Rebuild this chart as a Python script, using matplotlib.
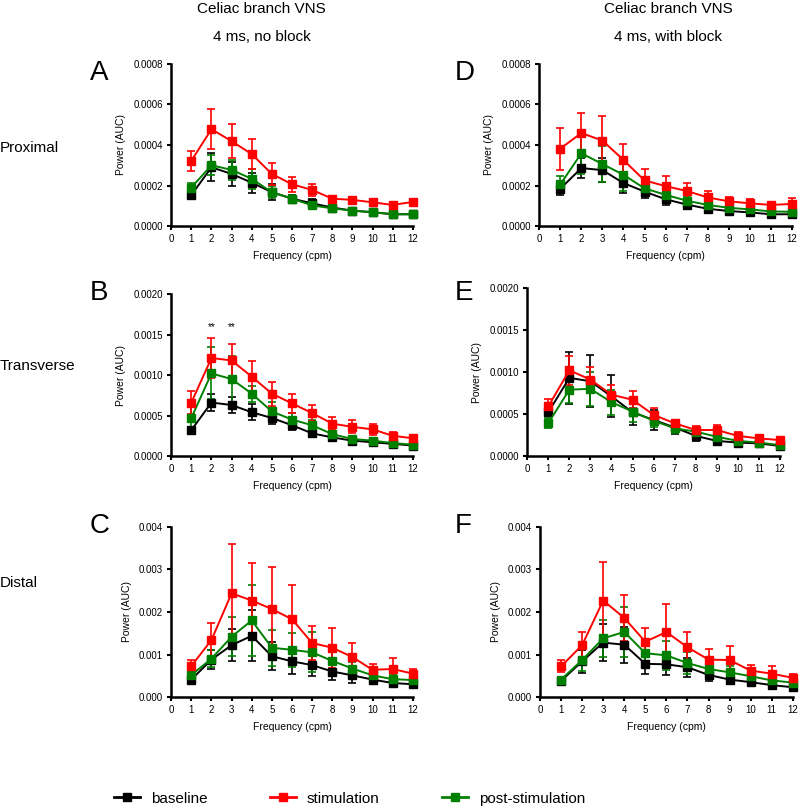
import matplotlib.pyplot as plt
from matplotlib.lines import Line2D
import numpy as np

plt.rcParams['font.family'] = ['Liberation Sans', 'DejaVu Sans']

freq = np.arange(1, 13)

# panel A: proximal, no block
a_base = [0.000153, 0.00029, 0.000257, 0.000214, 0.000167, 0.000135, 0.000112, 0.000091, 0.000076, 0.000068, 0.000058, 0.000058]
a_base_err = [0.00002, 0.00007, 0.00006, 0.00005, 0.00004, 0.00002, 0.00002, 0.00001, 0.000008, 0.000006, 0.000006, 0.000006]
a_stim = [0.000322, 0.000478, 0.000419, 0.000355, 0.000257, 0.000206, 0.000178, 0.000135, 0.000129, 0.000117, 0.000104, 0.000119]
a_stim_err = [0.00005, 0.0001, 0.000085, 0.000075, 0.000056, 0.000038, 0.00003, 0.000015, 0.000015, 0.000012, 0.00001, 0.000015]
a_post = [0.00019, 0.0003, 0.000277, 0.000233, 0.000167, 0.000135, 0.000102, 0.000087, 0.000076, 0.000068, 0.000058, 0.000058]
a_post_err = [0.00002, 0.00005, 0.00005, 0.00005, 0.00003, 0.00002, 0.000015, 0.00001, 0.00001, 0.000008, 0.000008, 0.000008]

# panel B: transverse, no block
b_base = [0.00032, 0.00066, 0.00063, 0.00054, 0.00047, 0.00038, 0.00028, 0.00023, 0.00019, 0.00017, 0.00015, 0.00013]
b_base_err = [0.00004, 0.00011, 0.0001, 0.0001, 0.00008, 0.00006, 0.00005, 0.00004, 0.00003, 0.00003, 0.00003, 0.00003]
b_stim = [0.00066, 0.00121, 0.00118, 0.00098, 0.00077, 0.00065, 0.00053, 0.0004, 0.00036, 0.00033, 0.00025, 0.00022]
b_stim_err = [0.00014, 0.00025, 0.0002, 0.00019, 0.00015, 0.00012, 0.0001, 0.00008, 0.00008, 0.00007, 0.00005, 0.00004]
b_post = [0.00047, 0.00102, 0.00095, 0.00077, 0.00055, 0.00045, 0.00038, 0.00027, 0.00021, 0.00019, 0.00016, 0.00014]
b_post_err = [0.00013, 0.00032, 0.00028, 0.0001, 0.00012, 0.00008, 0.00006, 0.00004, 0.00004, 0.00003, 0.00003, 0.00003]

# panel C: distal, no block
c_base = [0.00041, 0.00088, 0.00122, 0.00144, 0.00096, 0.00084, 0.00075, 0.0006, 0.00051, 0.00041, 0.00033, 0.0003]
c_base_err = [0.00007, 0.00023, 0.00038, 0.0006, 0.00033, 0.0003, 0.00025, 0.0002, 0.00017, 0.0001, 0.00008, 0.00006]
c_stim = [0.00073, 0.00134, 0.00244, 0.00227, 0.00207, 0.00183, 0.00127, 0.00116, 0.00094, 0.00064, 0.00066, 0.00055]
c_stim_err = [0.00015, 0.0004, 0.00116, 0.00089, 0.00098, 0.0008, 0.0004, 0.00047, 0.00033, 0.00014, 0.00025, 0.0001]
c_post = [0.00052, 0.0009, 0.00142, 0.0018, 0.00116, 0.00111, 0.00105, 0.00085, 0.00067, 0.00051, 0.00042, 0.0004]
c_post_err = [0.00006, 0.0002, 0.00046, 0.00083, 0.00042, 0.0004, 0.00047, 0.00025, 0.00015, 0.0001, 0.0001, 0.0001]

# panel D: proximal, with block
d_base = [0.000184, 0.000286, 0.000276, 0.000212, 0.00017, 0.000132, 0.000106, 0.000085, 0.000074, 0.000067, 0.000058, 0.000058]
d_base_err = [0.00003, 0.00005, 0.00006, 0.00005, 0.00003, 0.00003, 0.00002, 0.000015, 0.00001, 0.00001, 0.00001, 0.00001]
d_stim = [0.000382, 0.000459, 0.000422, 0.000326, 0.000225, 0.000197, 0.000173, 0.000141, 0.000122, 0.000112, 0.000104, 0.000109]
d_stim_err = [0.000104, 0.0001, 0.00012, 0.000077, 0.000056, 0.00005, 0.00004, 0.00003, 0.00002, 0.00002, 0.000015, 0.000027]
d_post = [0.000205, 0.000359, 0.000306, 0.000253, 0.000186, 0.000154, 0.000125, 0.000104, 0.00009, 0.000082, 0.000072, 0.00007]
d_post_err = [0.00004, 0.0001, 0.000087, 0.00008, 0.00004, 0.00003, 0.00002, 0.000015, 0.00001, 0.00001, 0.00001, 0.00001]

# panel E: transverse, with block
e_base = [0.00052, 0.00093, 0.00089, 0.00071, 0.00052, 0.00043, 0.00034, 0.00024, 0.00018, 0.00016, 0.00015, 0.00012]
e_base_err = [0.00004, 0.00031, 0.00031, 0.00025, 0.00015, 0.00012, 0.00008, 0.00006, 0.00004, 0.00003, 0.00003, 0.00003]
e_stim = [0.00059, 0.00102, 0.00091, 0.00073, 0.00067, 0.00049, 0.00039, 0.00031, 0.00031, 0.00024, 0.00021, 0.00019]
e_stim_err = [0.00009, 0.00017, 0.00015, 0.00012, 0.0001, 0.00008, 0.00004, 0.00005, 0.00006, 0.00005, 0.00003, 0.00003]
e_post = [0.00039, 0.00079, 0.0008, 0.00064, 0.00053, 0.00042, 0.00033, 0.00029, 0.00023, 0.00018, 0.00016, 0.00013]
e_post_err = [0.00006, 0.00016, 0.0002, 0.00015, 0.00012, 0.00008, 0.00006, 0.00005, 0.00004, 0.00004, 0.00003, 0.00003]

# panel F: distal, with block
f_base = [0.00038, 0.00084, 0.00128, 0.00123, 0.00078, 0.00077, 0.0007, 0.00052, 0.00041, 0.00035, 0.00028, 0.00023]
f_base_err = [0.00006, 0.00027, 0.00044, 0.00042, 0.00023, 0.00025, 0.00022, 0.00015, 0.0001, 0.00006, 0.00004, 0.00003]
f_stim = [0.00072, 0.00122, 0.00227, 0.00186, 0.0013, 0.00153, 0.00117, 0.00088, 0.00087, 0.00062, 0.00055, 0.00045]
f_stim_err = [0.00014, 0.0003, 0.0009, 0.00054, 0.00033, 0.00065, 0.00035, 0.00026, 0.00032, 0.00014, 0.00017, 0.0001]
f_post = [0.00041, 0.00087, 0.00138, 0.00153, 0.00103, 0.00098, 0.0008, 0.00066, 0.00058, 0.00049, 0.00039, 0.00034]
f_post_err = [0.00006, 0.00025, 0.00043, 0.00059, 0.00031, 0.00034, 0.00025, 0.00015, 0.00015, 0.0001, 0.00008, 0.00008]

col_titles = ["Celiac branch VNS\n4 ms, no block", "Celiac branch VNS\n4 ms, with block"]
row_labels = ["Proximal", "Transverse", "Distal"]
series_names = ["baseline", "stimulation", "post-stimulation"]
colors = ["black", "red", "green"]

panels = [
    ("A", a_base, a_base_err, a_stim, a_stim_err, a_post, a_post_err, 0.0008, 0.0002, "%.4f"),
    ("B", b_base, b_base_err, b_stim, b_stim_err, b_post, b_post_err, 0.002, 0.0005, "%.4f"),
    ("C", c_base, c_base_err, c_stim, c_stim_err, c_post, c_post_err, 0.004, 0.001, "%.3f"),
    ("D", d_base, d_base_err, d_stim, d_stim_err, d_post, d_post_err, 0.0008, 0.0002, "%.4f"),
    ("E", e_base, e_base_err, e_stim, e_stim_err, e_post, e_post_err, 0.002, 0.0005, "%.4f"),
    ("F", f_base, f_base_err, f_stim, f_stim_err, f_post, f_post_err, 0.004, 0.001, "%.3f"),
]

# axes rectangles [left, bottom, width, height] in figure fraction
rects = [
    [0.214, 0.7196, 0.302, 0.201],
    [0.214, 0.4342, 0.302, 0.201],
    [0.214, 0.1352, 0.302, 0.211],
    [0.674, 0.7196, 0.316, 0.201],
    [0.659, 0.4342, 0.316, 0.2085],
    [0.675, 0.1352, 0.316, 0.211],
]
# panel letter positions (figure fraction, top-left)
letter_pos = [(0.112, 0.925), (0.112, 0.652), (0.112, 0.363),
              (0.568, 0.925), (0.568, 0.652), (0.568, 0.363)]

fig = plt.figure(figsize=(8, 8.06), dpi=100)

for rect, lpos, (letter, base, base_e, stim, stim_e, post, post_e, ymax, ystep, fmt) in zip(rects, letter_pos, panels):
    ax = fig.add_axes(rect)
    for vals, errs, c in [(base, base_e, colors[0]), (post, post_e, colors[2]), (stim, stim_e, colors[1])]:
        ax.errorbar(freq, vals, yerr=errs, color=c, marker='s', markersize=5.5,
                    linewidth=1.4, elinewidth=1.2, capsize=3.2, capthick=1.2, clip_on=False)
    ax.set_xlim(0, 12)
    ax.set_ylim(0, ymax)
    ax.set_xticks(range(0, 13))
    ax.set_yticks(np.arange(0, ymax + ystep / 2, ystep))
    ax.yaxis.set_major_formatter(plt.FormatStrFormatter(fmt))
    ax.tick_params(labelsize=7, width=1.5, length=3, pad=3)
    for s in ['top', 'right']:
        ax.spines[s].set_visible(False)
    for s in ['left', 'bottom']:
        ax.spines[s].set_linewidth(1.8)
    ax.set_xlabel('Frequency (cpm)', fontsize=7.5, labelpad=5)
    ax.set_ylabel('Power (AUC)', fontsize=7.5, labelpad=5)
    fig.text(lpos[0], lpos[1], letter, fontsize=20, va='top', ha='left')
    if letter == "B":
        for x in [2, 3]:
            ax.text(x, 0.00153, "**", ha='center', va='bottom', fontsize=7)

fig.text(0.327, 0.9715, col_titles[0], ha='center', va='center', fontsize=11, linespacing=2.25)
fig.text(0.835, 0.9715, col_titles[1], ha='center', va='center', fontsize=11, linespacing=2.25)

for y, lab in zip([0.816, 0.546, 0.277], row_labels):
    fig.text(0.0, y, lab, ha='left', va='center', fontsize=11)

handles = [Line2D([], [], color=c, marker='s', markersize=5.5, linewidth=2) for c in colors]
fig.legend(handles, series_names, loc='center', bbox_to_anchor=(0.437, 0.009), ncol=3,
           frameon=False, fontsize=11, columnspacing=4.1, handlelength=1.7, handletextpad=0.7)

fig.savefig('out.png', dpi=100)
